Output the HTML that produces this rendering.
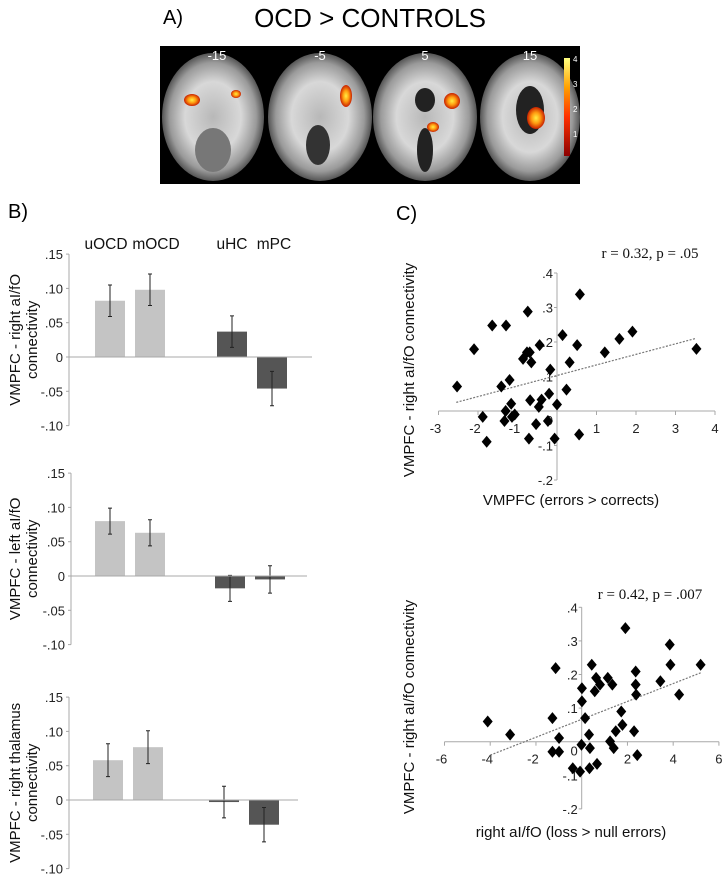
<!DOCTYPE html>
<html><head><meta charset="utf-8"><style>
html,body{margin:0;padding:0;background:#fff;}
svg{display:block;font-family:"Liberation Sans",Arial,sans-serif;}
</style></head><body>
<svg id="fig" width="728" height="879" viewBox="0 0 728 879">
<defs>
<radialGradient id="brainG" cx="50%" cy="50%" r="50%">
<stop offset="0%" stop-color="#b8b8b8"/><stop offset="55%" stop-color="#d8d8d8"/><stop offset="85%" stop-color="#9a9a9a"/><stop offset="100%" stop-color="#555"/>
</radialGradient>
<radialGradient id="blobG" cx="50%" cy="50%" r="50%">
<stop offset="0%" stop-color="#ffee44"/><stop offset="50%" stop-color="#ff9a10"/><stop offset="100%" stop-color="#c82000"/>
</radialGradient>
<linearGradient id="cbar" x1="0" y1="1" x2="0" y2="0">
<stop offset="0%" stop-color="#8b0000"/><stop offset="40%" stop-color="#ff3000"/><stop offset="70%" stop-color="#ffa000"/><stop offset="100%" stop-color="#ffff80"/>
</linearGradient>
</defs>

<text x="163" y="24" font-size="20">A)</text>
<text x="370" y="27" font-size="26" text-anchor="middle">OCD &gt; CONTROLS</text>
<rect x="160" y="46" width="420" height="138" fill="#000"/>
<g>
<ellipse cx="213" cy="117" rx="51" ry="64" fill="url(#brainG)"/>
<ellipse cx="213" cy="150" rx="18" ry="22" fill="#777"/>
<ellipse cx="192" cy="100" rx="8" ry="6" fill="url(#blobG)"/>
<ellipse cx="236" cy="94" rx="5" ry="4" fill="url(#blobG)"/>
<text x="217" y="60" font-size="13" fill="#fff" text-anchor="middle">-15</text></g>
<g>
<ellipse cx="320" cy="117" rx="52" ry="64" fill="url(#brainG)"/>
<ellipse cx="318" cy="145" rx="12" ry="20" fill="#333"/>
<ellipse cx="346" cy="96" rx="6" ry="11" fill="url(#blobG)"/>
<text x="320" y="60" font-size="13" fill="#fff" text-anchor="middle">-5</text></g>
<g>
<ellipse cx="425" cy="117" rx="52" ry="64" fill="url(#brainG)"/>
<ellipse cx="425" cy="100" rx="10" ry="12" fill="#222"/>
<ellipse cx="425" cy="150" rx="8" ry="22" fill="#222"/>
<ellipse cx="452" cy="101" rx="8" ry="8" fill="url(#blobG)"/>
<ellipse cx="433" cy="127" rx="6" ry="5" fill="url(#blobG)"/>
<text x="425" y="60" font-size="13" fill="#fff" text-anchor="middle">5</text></g>
<g>
<ellipse cx="530" cy="117" rx="50" ry="64" fill="url(#brainG)"/>
<ellipse cx="530" cy="110" rx="14" ry="24" fill="#222"/>
<ellipse cx="536" cy="118" rx="9" ry="11" fill="url(#blobG)"/>
<text x="530" y="60" font-size="13" fill="#fff" text-anchor="middle">15</text></g>
<rect x="564" y="58" width="6" height="98" fill="url(#cbar)"/>
<g font-size="8" fill="#fff">
<text x="573" y="62">4</text><text x="573" y="87">3</text><text x="573" y="112">2</text><text x="573" y="137">1</text></g>

<text x="8" y="218" font-size="20">B)</text>
<text x="396" y="220" font-size="20">C)</text>
<g id="bars"></g>
<g id="scatters"></g>
</svg>
<script>
const NS="http://www.w3.org/2000/svg";
function mk(p,tag,attrs){const e=document.createElementNS(NS,tag);for(const k in attrs)e.setAttribute(k,attrs[k]);p.appendChild(e);return e;}

// ---- Bar chart data ----
const groups=["uOCD","mOCD","uHC","mPC"];
const rightAIValues=[0.082,0.098,0.037,-0.046];
const rightAIErrors=[0.023,0.023,0.023,0.025];
const leftAIValues=[0.080,0.063,-0.018,-0.005];
const leftAIErrors=[0.019,0.019,0.019,0.020];
const thalamusValues=[0.058,0.077,-0.003,-0.036];
const thalamusErrors=[0.024,0.024,0.023,0.025];
const barTicks=[0.15,0.10,0.05,0,-0.05,-0.10];
const barTickLabels=[".15",".10",".05","0","-.05","-.10"];

// ---- Scatter data ----
const sc1X=[-2.53,-2.10,-1.64,-1.29,-0.74,0.58,-1.88,-1.78,-1.33,-1.30,-1.16,-1.14,-1.07,-1.20,-1.41,-0.86,-0.76,-0.69,-0.65,-0.44,-0.68,-0.46,-0.39,-0.53,-0.23,-0.20,-0.17,-0.06,0.00,-0.71,0.14,0.32,0.24,0.51,0.56,1.21,1.58,1.91,3.53];
const sc1Y=[0.071,0.179,0.248,0.248,0.288,0.338,-0.017,-0.089,-0.029,0.000,0.021,-0.017,-0.010,0.090,0.071,0.151,0.170,0.170,0.141,0.191,0.031,0.012,0.033,-0.038,-0.029,0.050,0.120,-0.080,0.019,-0.080,0.220,0.141,0.062,0.191,-0.068,0.170,0.209,0.230,0.180];
const sc1Trend=[[-2.55,0.025],[3.5,0.21]];
const sc1XTicks=[-3,-2,-1,0,1,2,3,4];
const sc1YTicks=[-0.2,-0.1,0,0.1,0.2,0.3,0.4];
const sc1YTickLabels=["-.2","-.1","0",".1",".2",".3",".4"];

const sc2X=[-4.11,-3.13,-1.14,-1.28,-0.99,-1.28,-0.99,0.01,0.01,0.15,-0.01,-0.07,-0.39,0.32,0.36,0.34,0.67,0.44,0.63,0.57,0.80,1.14,1.34,1.24,1.40,1.49,1.73,1.78,1.91,2.29,2.36,2.36,2.38,2.43,3.44,3.85,3.88,4.26,5.20];
const sc2Y=[0.060,0.021,0.219,0.070,0.011,-0.030,-0.030,0.159,0.120,0.070,-0.009,-0.089,-0.079,0.021,-0.019,-0.079,-0.066,0.229,0.190,0.150,0.170,0.190,0.170,0.001,-0.019,0.031,0.090,0.050,0.338,0.031,0.209,0.170,0.140,-0.040,0.180,0.289,0.229,0.140,0.229];
const sc2Trend=[[-4.0,-0.04],[5.2,0.205]];
const sc2XTicks=[-6,-4,-2,0,2,4,6];
const sc2YTicks=[-0.2,-0.1,0,0.1,0.2,0.3,0.4];
const sc2YTickLabels=["-.2","-.1","0",".1",".2",".3",".4"];

const AX="#a8a8a8";
const bars=document.getElementById('bars');
const labelShift=[-4,6,0,2];

function barChart(name,vals,errs,axisX,y0,firstX,pairGap,endX,ylab1,ylab2,showGroups){
  const g=mk(bars,'g',{});
  
  
  const yS=v=>y0-v*686;
  const bw=30;
  const xS=i=>firstX+i*40+(i>=2?pairGap:0);
  const ax=mk(g,'line',{x1:axisX,x2:axisX,y1:yS(0.15),y2:yS(-0.10),stroke:AX,'stroke-width':1});
  
  
  barTicks.forEach((t,i)=>{
    const tx=mk(g,'text',{x:axisX-6,y:yS(t)+5,'font-size':13,'text-anchor':'end',fill:'#222'});
    tx.textContent=barTickLabels[i];
    
    
    mk(g,'line',{x1:axisX-3,x2:axisX,y1:yS(t),y2:yS(t),stroke:AX});
  });
  vals.forEach((v,i)=>{
    const x=xS(i);
    const r=mk(g,'rect',{x:x,y:Math.min(yS(v),yS(0)),width:bw,height:Math.abs(yS(v)-yS(0)),fill:i<2?'#c4c4c4':'#555555'});
    
    
    const cx=x+bw/2,e=errs[i];
    const eb=mk(g,'path',{d:`M${cx} ${yS(v+e)}V${yS(v-e)}M${cx-2} ${yS(v+e)}h4M${cx-2} ${yS(v-e)}h4`,stroke:'#222','stroke-width':1,fill:'none'});
    
    
    if(showGroups){
      const gt=mk(g,'text',{x:cx+labelShift[i],y:y0-108,'font-size':15.5,'text-anchor':'middle',fill:'#111'});
      gt.textContent=groups[i];
      
      
    }
  });
  const zl=mk(g,'line',{x1:axisX,x2:endX,y1:y0,y2:y0,stroke:AX});
  
  
  const cy=yS(0.025);
  const t1=mk(g,'text',{transform:`translate(20 ${cy}) rotate(-90)`,'font-size':15,'text-anchor':'middle',fill:'#111'});
  t1.textContent=ylab1;
  
  
  const t2=mk(g,'text',{transform:`translate(37 ${cy}) rotate(-90)`,'font-size':15,'text-anchor':'middle',fill:'#111'});
  t2.textContent=ylab2;
  
  
}
barChart('bar-chart-right-aifo',rightAIValues,rightAIErrors,69,357,95,42,312,'VMPFC - right aI/fO','connectivity',true);
barChart('bar-chart-left-aifo',leftAIValues,leftAIErrors,71,576,95,40,307,'VMPFC - left aI/fO','connectivity',false);
barChart('bar-chart-right-thalamus',thalamusValues,thalamusErrors,69,800,93,36,298,'VMPFC - right thalamus','connectivity',false);

const scat=document.getElementById('scatters');
function scatter(name,X,Y,trend,xt,yt,ytl,x0,xs,y0,ys,title,titleY,xlab,xlabY,ylabX,ylabY){
  const g=mk(scat,'g',{});
  
  
  const xS=v=>x0+v*xs, yS=v=>y0-v*ys;
  const xa=mk(g,'line',{x1:xS(xt[0]),x2:xS(xt[xt.length-1]),y1:y0,y2:y0,stroke:AX});
  
  
  const ya=mk(g,'line',{x1:x0,x2:x0,y1:yS(yt[yt.length-1]),y2:yS(yt[0]),stroke:AX});
  
  
  xt.forEach(t=>{
    mk(g,'line',{x1:xS(t),x2:xS(t),y1:y0,y2:y0+4,stroke:AX});
    if(t===0) return;
    const tx=mk(g,'text',{x:xS(t)-(t<0?3:0),y:y0+22,'font-size':13,'text-anchor':'middle',fill:'#222'});
    tx.textContent=String(t);
    
    
  });
  yt.forEach((t,i)=>{
    mk(g,'line',{x1:x0-3,x2:x0,y1:yS(t),y2:yS(t),stroke:AX});
    const tx=mk(g,'text',{x:x0-4,y:yS(t)+(t===0?14:5),'font-size':13,'text-anchor':'end',fill:'#222'});
    tx.textContent=ytl[i];
    
    
  });
  const tl=mk(g,'line',{x1:xS(trend[0][0]),y1:yS(trend[0][1]),x2:xS(trend[1][0]),y2:yS(trend[1][1]),stroke:'#777','stroke-width':1.2,'stroke-dasharray':'2 1.5'});
  
  
  X.forEach((v,i)=>{
    const px=xS(v),py=yS(Y[i]);
    const d=mk(g,'path',{d:`M${px} ${py-6}L${px+5} ${py}L${px} ${py+6}L${px-5} ${py}Z`,fill:'#000'});
    
    
  });
  const tt=mk(g,'text',{x:650,y:titleY,'font-size':15,'text-anchor':'middle','font-family':'"Liberation Serif",serif',fill:'#111'});
  tt.textContent=title;
  
  
  const xl=mk(g,'text',{x:571,y:xlabY,'font-size':15,'text-anchor':'middle',fill:'#111'});
  xl.textContent=xlab;
  
  
  const yl=mk(g,'text',{transform:`translate(${ylabX} ${ylabY}) rotate(-90)`,'font-size':15,'text-anchor':'middle',fill:'#111'});
  yl.textContent='VMPFC - right aI/fO connectivity';
  
  
}
scatter('scatter-errors-vs-corrects',sc1X,sc1Y,sc1Trend,sc1XTicks,sc1YTicks,sc1YTickLabels,557,39.5,411,345,'r = 0.32, p = .05',258,'VMPFC (errors > corrects)',505,414,370);
scatter('scatter-loss-vs-null',sc2X,sc2Y,sc2Trend,sc2XTicks,sc2YTicks,sc2YTickLabels,581.7,22.87,741.7,336,'r = 0.42, p = .007',599,'right aI/fO (loss > null errors)',837,414,707);
</script>
</body></html>
